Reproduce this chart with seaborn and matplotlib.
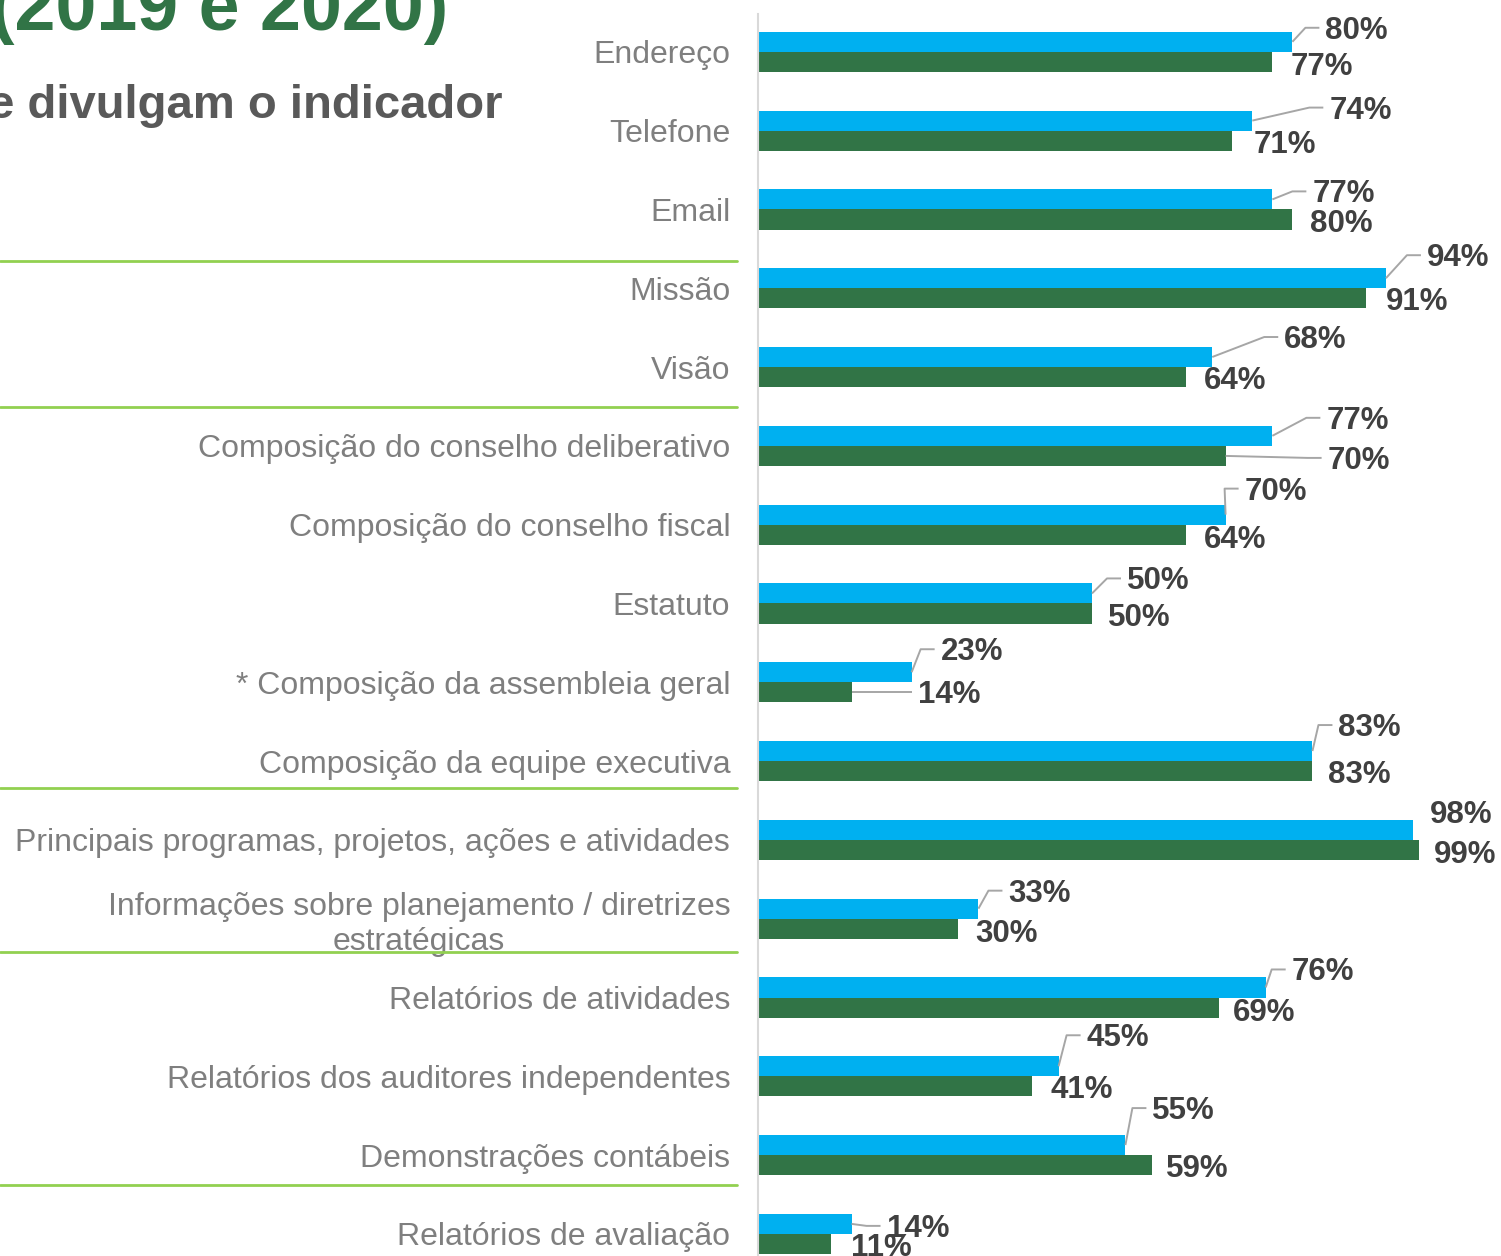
import matplotlib
matplotlib.use("Agg")
import matplotlib.pyplot as plt
import matplotlib.transforms as mtransforms
from matplotlib.lines import Line2D
import seaborn as sns
import pandas as pd

# ---------------- data ----------------
categorias = [
    "Endereço",
    "Telefone",
    "Email",
    "Missão",
    "Visão",
    "Composição do conselho deliberativo",
    "Composição do conselho fiscal",
    "Estatuto",
    "* Composição da assembleia geral",
    "Composição da equipe executiva",
    "Principais programas, projetos, ações e atividades",
    "Informações sobre planejamento / diretrizes\nestratégicas",
    "Relatórios de atividades",
    "Relatórios dos auditores independentes",
    "Demonstrações contábeis",
    "Relatórios de avaliação",
]
anos = ["2020", "2019"]
valores_azul = [80, 74, 77, 94, 68, 77, 70, 50, 23, 83, 98, 33, 76, 45, 55, 14]
valores_verde = [77, 71, 80, 91, 64, 70, 64, 50, 14, 83, 99, 30, 69, 41, 59, 11]

titulo = "(2019 e 2020)"
subtitulo = "e divulgam o indicador"

# ---------------- label placement (pixel offsets from bar end) ----------------
off_azul = [(33, -14), (77, -13), (40, -8), (41, -23), (72, -20), (54, -18),
            (19, -26), (35, -15), (29, -23), (26, -26), (17, -18), (30, -18),
            (26, -18), (28, -31), (27, -37), (35, 2)]
lead_azul = [1, 1, 1, 1, 1, 1, 1, 1, 1, 1, 0, 1, 1, 1, 1, 1]
off_verde = [(18, 2), (21, 1), (18, 2), (20, 1), (18, 1), (102, 2),
             (18, 2), (16, 1), (66, 0), (16, 1), (15, 2), (17, 2),
             (14, 2), (19, 1), (14, 1), (20, 1)]
lead_verde = [0, 0, 0, 0, 0, 1, 0, 0, 1, 0, 0, 0, 0, 0, 0, 0]
separadores = [2.65, 4.505, 9.34, 11.42, 14.38]

AZUL = "#00B0F0"
VERDE = "#317446"
CINZA_TXT = "#7F7F7F"
ROTULO = "#404040"
LINHA_SEP = "#92D050"

df = pd.DataFrame({
    "categoria": categorias * 2,
    "valor": valores_azul + valores_verde,
    "ano": [anos[0]] * len(categorias) + [anos[1]] * len(categorias),
})

sns.set_theme(style="white")
plt.rcParams["font.family"] = ["Liberation Sans", "DejaVu Sans"]

W, H = 1501, 1256
fig = plt.figure(figsize=(W / 100, H / 100), dpi=100)
fig.patch.set_facecolor("white")
ax = fig.add_axes([758 / W, 0, 668 / W, 1242 / H])

BAR_W = 0.51
sns.barplot(data=df, y="categoria", x="valor", hue="ano", hue_order=anos,
            palette=[AZUL, VERDE], orient="h", width=BAR_W, saturation=1,
            legend=False, ax=ax, linewidth=0)

ax.set_xlim(0, 100)
ax.set_ylim(15.28, -0.48)
ax.set_xlabel("")
ax.set_ylabel("")
ax.set_xticks([])
for s in ["top", "right", "bottom"]:
    ax.spines[s].set_visible(False)
ax.spines["left"].set_color("#D9D9D9")
ax.spines["left"].set_linewidth(1.5)
ax.tick_params(axis="y", length=0, pad=20, labelsize=23, labelcolor=CINZA_TXT)
for lab in ax.get_yticklabels():
    lab.set_multialignment("center")
    lab.set_linespacing(1.2)
ax.set_facecolor("white")


def shift(x, y, dxp, dyp):
    X, Y = ax.transData.transform((x, y))
    return ax.transData.inverted().transform((X + dxp, Y - dyp))


half = BAR_W / 4
series = [
    (valores_azul, off_azul, lead_azul, -half),
    (valores_verde, off_verde, lead_verde, half),
]
for vals, offs, leads, yoff in series:
    for i, v in enumerate(vals):
        x0, y0 = v, i + yoff
        dx, dy = offs[i]
        tx, ty = shift(x0, y0, dx, dy + 11)
        ax.text(tx, ty, f"{v}%", ha="left", va="baseline", fontsize=22.5,
                fontweight="bold", color=ROTULO, clip_on=False)
        if leads[i]:
            ex, ey = shift(x0, y0, dx - 20, dy)
            fx, fy = shift(x0, y0, dx - 6, dy)
            ax.plot([x0, ex, fx], [y0, ey, fy], color="#A6A6A6", lw=1.4,
                    clip_on=False, solid_capstyle="butt")

# separators
blend = mtransforms.blended_transform_factory(fig.transFigure, ax.transData)
for yv in separadores:
    fig.add_artist(Line2D([0, 737 / W], [yv, yv], transform=blend,
                          color=LINHA_SEP, lw=2))

# titles (partially cropped in the reference)
fig.text(448 / W, 1 - 30 / H, titulo, ha="right", va="baseline",
         fontsize=53, fontweight="bold", color=VERDE)
fig.text(503 / W, 1 - 118 / H, subtitulo, ha="right", va="baseline",
         fontsize=34, fontweight="bold", color="#595959")

fig.savefig("out.png", dpi=100, facecolor="white")
